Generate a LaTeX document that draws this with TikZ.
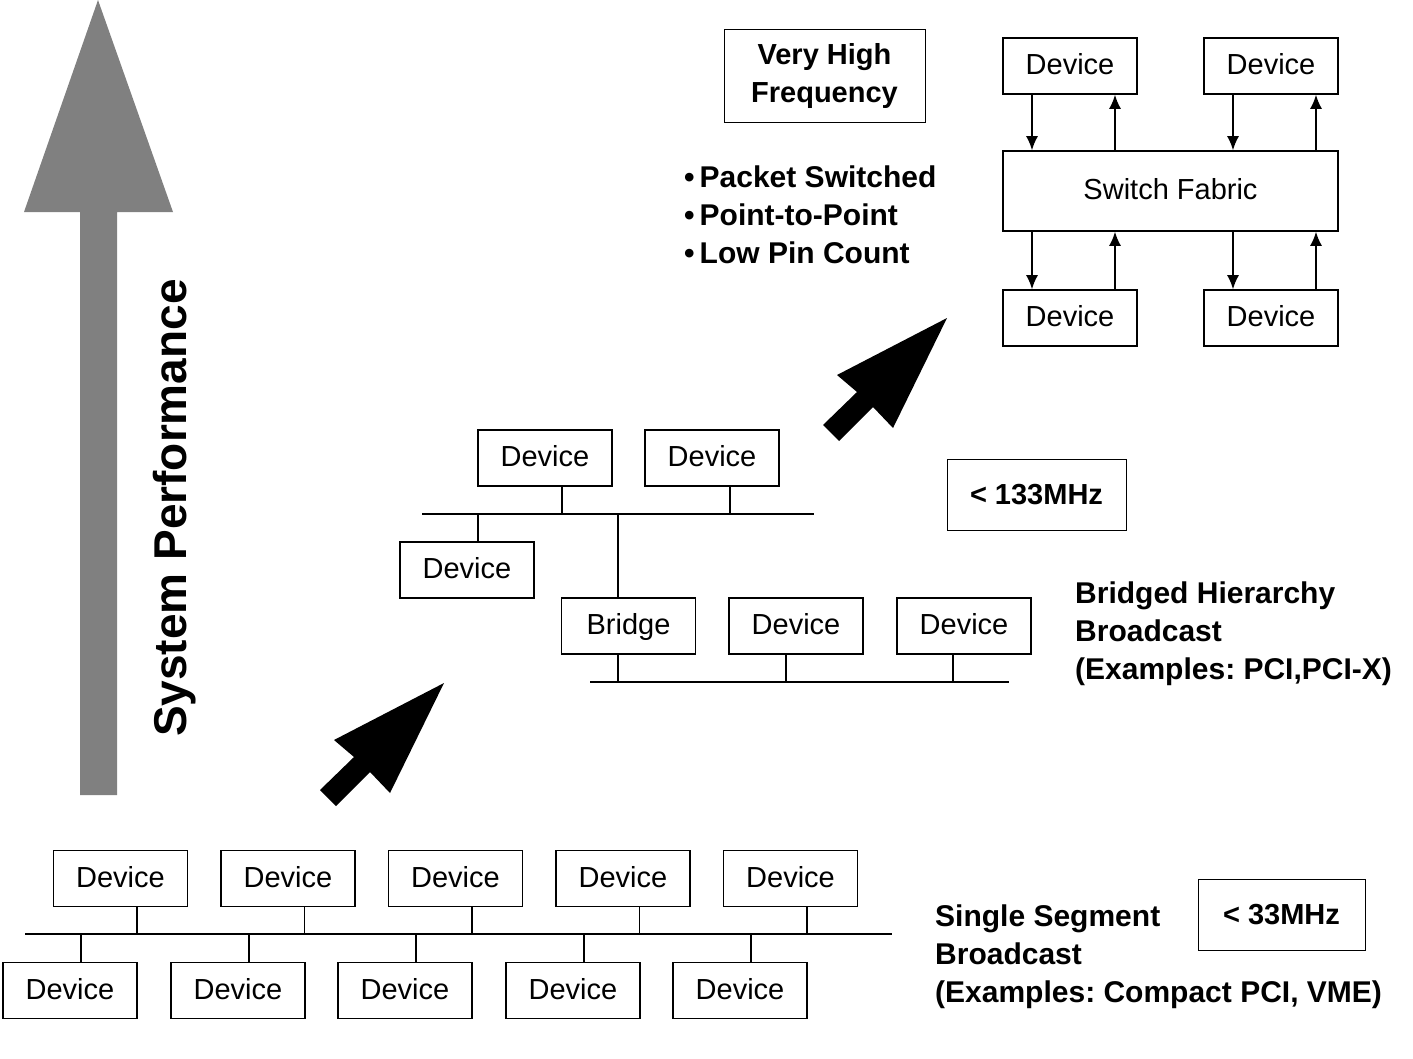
\documentclass[tikz,border=0pt]{standalone}
\usepackage{fontspec}
\setmainfont{Liberation Sans}
\usetikzlibrary{positioning, calc, arrows.meta}
\definecolor{perfGray}{RGB}{128,128,128}
\frenchspacing

\begin{document}
\begin{tikzpicture}[x=1pt, y=-1pt,
    every node/.style={font=\fontsize{29}{32}\selectfont},
    dev/.style={draw, line width=1.6pt, minimum width=134pt, minimum height=56pt, inner sep=0pt, text height=21pt, text depth=4pt},
    tag/.style={draw, line width=0.8pt, inner sep=0pt, font=\fontsize{29}{36}\selectfont\bfseries},
    bus/.style={line width=1.6pt},
    link/.style={-{Latex[length=14pt,width=12pt]}, line width=1.6pt},
    info/.style={anchor=north west, align=left, inner sep=0pt, font=\fontsize{30}{38}\selectfont\bfseries},
]
\useasboundingbox (0,0) rectangle (1413,1058);

% performance axis
\fill[perfGray] (80,795) -- (80,212) -- (24,212) -- (98,0) -- (173,212) -- (117,212) -- (117,795) -- cycle;
\node[rotate=90, font=\fontsize{46}{50}\selectfont\bfseries] (perf) at (175,508) {System Performance};

% step arrows
\fill (444,683) -- (390,793) -- (370,772) -- (336,806) -- (320,790) -- (354,757) -- (334,740) -- cycle;
\fill (947,318) -- (893,428) -- (873,407) -- (839,441) -- (823,425) -- (857,392) -- (837,375) -- cycle;

% single segment
\coordinate (bus0) at (0,934);
\draw[bus] (25,934) -- (892,934);
\foreach \i/\x in {1/120.5, 2/288, 3/455.5, 4/623, 5/790.5} {
  \node[dev] (t\i) at (\x,878.5) {Device};
  \draw[bus] ([xshift=16.5pt]t\i.south) -- ([xshift=16.5pt]t\i.south |- bus0);
}
\foreach \i/\x in {1/70, 2/238, 3/405, 4/573, 5/740} {
  \node[dev] (b\i) at (\x,990.5) {Device};
  \draw[bus] ([xshift=11pt]b\i.north) -- ([xshift=11pt]b\i.north |- bus0);
}
\node[info] (single) at (935,905) {Single Segment\\Broadcast\\(Examples: Compact PCI, VME)};
\node[tag, minimum width=167pt, minimum height=71pt] (f33) at (1281.5,914.5) {\textless{} 33MHz};

% bridged hierarchy
\coordinate (bus1) at (0,514);
\coordinate (bus2) at (0,682);
\draw[bus] (422,514) -- (814,514);
\draw[bus] (590,682) -- (1009,682);
\node[dev] (m1) at (545,458) {Device};
\node[dev] (m2) at (712,458) {Device};
\node[dev] (m3) at (467,570) {Device};
\node[dev] (bridge) at (628.5,626) {Bridge};
\node[dev] (m4) at (796,626) {Device};
\node[dev] (m5) at (964,626) {Device};
\draw[bus] ([xshift=17pt]m1.south) -- ([xshift=17pt]m1.south |- bus1);
\draw[bus] ([xshift=18pt]m2.south) -- ([xshift=18pt]m2.south |- bus1);
\draw[bus] ([xshift=11pt]m3.north) -- ([xshift=11pt]m3.north |- bus1);
\draw[bus] ([xshift=-10.5pt]bridge.north) -- ([xshift=-10.5pt]bridge.north |- bus1);
\draw[bus] ([xshift=-10.5pt]bridge.south) -- ([xshift=-10.5pt]bridge.south |- bus2);
\draw[bus] ([xshift=-10pt]m4.south) -- ([xshift=-10pt]m4.south |- bus2);
\draw[bus] ([xshift=-11pt]m5.south) -- ([xshift=-11pt]m5.south |- bus2);
\node[tag, minimum width=179pt, minimum height=71pt] (f133) at (1036.5,494.5) {\textless{} 133MHz};
\node[info] (bridged) at (1075,582) {Bridged Hierarchy\\Broadcast\\(Examples: PCI,PCI-X)};

% switch fabric
\node[tag, minimum width=201pt, minimum height=93pt, align=center, font=\fontsize{29}{38}\selectfont\bfseries] (vhf) at (824.5,75.5) {Very High\\Frequency};
\node[info] (feat) at (684,166) {\textbullet\hspace{5pt}Packet Switched\\\textbullet\hspace{5pt}Point-to-Point\\\textbullet\hspace{5pt}Low Pin Count};
\node[dev, minimum width=335pt, minimum height=80pt] (sw) at (1170.5,191) {Switch Fabric};
\node[dev] (s1) at (1070,66) {Device};
\node[dev] (s2) at (1271,66) {Device};
\node[dev] (s3) at (1070,318) {Device};
\node[dev] (s4) at (1271,318) {Device};
\foreach \s in {s1,s2} {
  \draw[link] ([xshift=-38pt]\s.south) -- ([xshift=-38pt]\s.south |- sw.north);
  \draw[link] ([xshift=45pt]\s.south |- sw.north) -- ([xshift=45pt]\s.south);
}
\foreach \s in {s3,s4} {
  \draw[link] ([xshift=-38pt]\s.north |- sw.south) -- ([xshift=-38pt]\s.north);
  \draw[link] ([xshift=45pt]\s.north) -- ([xshift=45pt]\s.north |- sw.south);
}
\end{tikzpicture}
\end{document}
